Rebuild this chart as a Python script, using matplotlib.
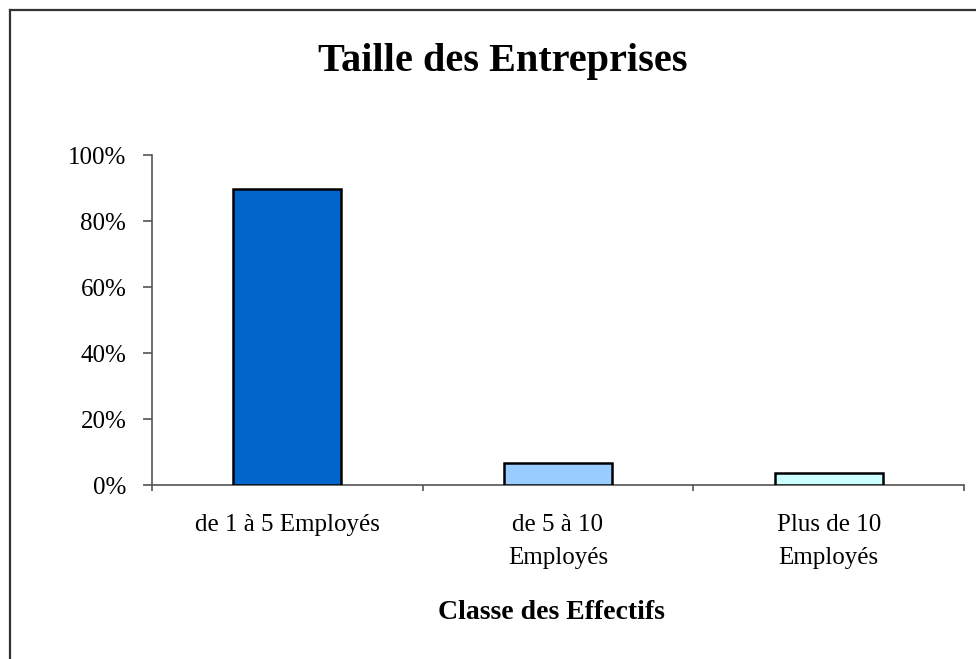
import numpy as np
import matplotlib
matplotlib.use("Agg")
import matplotlib.pyplot as plt
from matplotlib.lines import Line2D
from matplotlib.ticker import FuncFormatter

# data
categories = ["de 1 à 5 Employés", "de 5 à 10\nEmployés", "Plus de 10\nEmployés"]
values = [89.6, 6.8, 3.7]
bar_colors = ["#0066CC", "#99CCFF", "#CCFFFF"]
y_ticks = [0, 20, 40, 60, 80, 100]

plt.rcParams['font.family'] = ['Liberation Serif', 'DejaVu Serif']

fig = plt.figure(figsize=(9.76, 6.59), dpi=100)
ax = fig.add_axes([152/976, 174/659, 812/976, 330/659])

x = np.arange(len(categories))
ax.bar(x, values, width=0.4, color=bar_colors, edgecolor="black", linewidth=1.8, zorder=3)

ax.set_xlim(-0.5, len(categories) - 0.5)
ax.set_ylim(0, 100)
ax.set_yticks(y_ticks)
ax.yaxis.set_major_formatter(FuncFormatter(lambda v, p: f"{v:.0f}%"))

# category boundaries carry the ticks, labels sit under the bars
ax.set_xticks(np.arange(-0.5, len(categories)), minor=False)
ax.set_xticklabels([])
ax.set_xticks(x, minor=True)
ax.set_xticklabels(categories, minor=True, fontsize=18, linespacing=1.65)
ax.tick_params(axis="x", which="minor", length=0, pad=21)
ax.tick_params(axis="x", which="major", length=4.5, width=1.2, color="#555555", direction="out")
ax.tick_params(axis="y", length=6.5, width=1.2, color="#555555", labelsize=18, pad=12)

for side in ["top", "right"]:
    ax.spines[side].set_visible(False)
for side in ["left", "bottom"]:
    ax.spines[side].set_color("#555555")
    ax.spines[side].set_linewidth(1.2)

fig.text(0.515, 0.907, "Taille des Entreprises", ha="center", va="center",
         fontsize=29, fontweight="bold")
fig.text(0.565, 0.071, "Classe des Effectifs", ha="center", va="center",
         fontsize=20, fontweight="bold")

# outer frame: only top and left edges are inside the picture
fig.add_artist(Line2D([10/976, 1.0], [1 - 10/659, 1 - 10/659], color="#333333", lw=1.6,
                      transform=fig.transFigure))
fig.add_artist(Line2D([10/976, 10/976], [0.0, 1 - 10/659], color="#333333", lw=1.6,
                      transform=fig.transFigure))

fig.savefig("out.png", dpi=100)
